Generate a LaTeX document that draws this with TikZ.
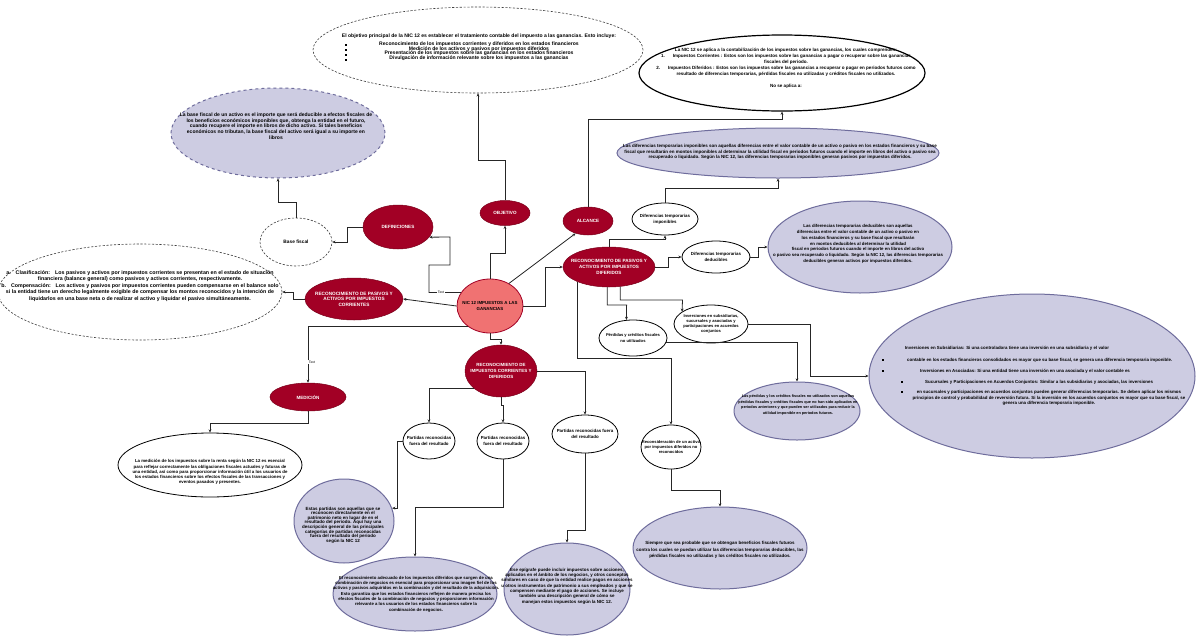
\documentclass[tikz,border=0pt]{standalone}
\usepackage{fontspec}
\setmainfont{Liberation Sans}
\usetikzlibrary{shapes.geometric,arrows.meta}
\definecolor{crim}{HTML}{A20025}
\definecolor{crimd}{HTML}{7A001A}
\definecolor{salm}{HTML}{F07272}
\definecolor{lavf}{HTML}{CDCCE2}
\definecolor{lavd}{HTML}{6E6C9C}
\newcommand\sqb{\rule{1.5pt}{1.5pt}}
\begin{document}
\begin{tikzpicture}[x=1pt,y=-1pt,
  E/.style={ellipse, inner sep=0pt},
  red/.style={E, fill=crim, draw=crimd, line width=0.5pt},
  wht/.style={E, fill=white, draw=black, line width=0.8pt},
  dsh/.style={E, fill=white, draw=black!75, line width=0.6pt, dash pattern=on 2.2pt off 1.6pt},
  lav/.style={E, fill=lavf, draw=lavd, line width=1pt},
  sz/.style 2 args={minimum width=#1pt, minimum height=#2pt},
  tx/.style={align=center, inner sep=0pt, text=black, font=\fontsize{4.4}{5.6}\selectfont\bfseries},
  wtx/.style={align=center, inner sep=0pt, text=white, font=\fontsize{4.6}{5.6}\selectfont\bfseries},
  fs/.style 2 args={font=\fontsize{#1}{#2}\selectfont\bfseries},
  conn/.style={draw=black!85, line width=0.8pt, -{Stealth[length=3.2pt,width=2.8pt]}},
  lbl/.style={fill=white, inner sep=0.4pt, font=\fontsize{3.4}{4}\selectfont},
]
\useasboundingbox (0,0) rectangle (1200,643);
\fill[white] (0,0) rectangle (1200,643);

% ---------- top ellipses ----------
\node[dsh, sz={330}{86}] (obj) at (478,50) {};
\node[tx, fs={5.05}{4.9}] (objt) at (479,47.5) {El objetivo principal de la NIC 12 es establecer el tratamiento contable del impuesto a las ganancias. Esto incluye:\\[2.5pt]
Reconocimiento de los impuestos corrientes y diferidos en los estados financieros\\
Medición de los activos y pasivos por impuestos diferidos\\
Presentación de los impuestos sobre las ganancias en los estados financieros\\
Divulgación de información relevante sobre los impuestos a las ganancias};
\node[tx, fs={4}{4.9}] (objb) at (346,52.5) {\sqb\\\sqb\\\sqb\\\sqb};

\node[wht, line width=1.2pt, sz={286}{76}] (alc) at (782,73) {};
\node[tx, fs={4.55}{6}] (alct) at (786,68) {La NIC 12 se aplica a la contabilización de los impuestos sobre las ganancias, los cuales comprenden:\\
1.\hspace{8pt}Impuestos Corrientes : Estos son los impuestos sobre las ganancias a pagar o recuperar sobre las ganancias\\
fiscales del periodo.\\
2.\hspace{8pt}Impuestos Diferidos : Estos son los impuestos sobre las ganancias a recuperar o pagar en periodos futuros como\\
resultado de diferencias temporarias, pérdidas fiscales no utilizadas y créditos fiscales no utilizados.\\[6pt]
No se aplica a:};

\node[lav, dashed, sz={214}{90}] (bt) at (278,133) {};
\node[tx, fs={5.0}{5.7}] (btt) at (276,126) {La base fiscal de un activo es el importe que será deducible a efectos fiscales de\\
los beneficios económicos imponibles que, obtenga la entidad en el futuro,\\
cuando recupere el importe en libros de dicho activo. Si tales beneficios\\
económicos no tributan, la base fiscal del activo será igual a su importe en\\
libros};

% ---------- left ----------
\node[dsh, sz={72}{48}] (bf) at (296,242) {};
\node[tx, fs={4.8}{5.6}] (bft) at (bf) {Base fiscal};

\node[dsh, sz={284}{96}] (cl) at (140,292) {};
\node[tx, fs={5.3}{6.6}] (clt) at (140,286) {a.\hspace{5pt}Clasificación:\hspace{3pt} Los pasivos y activos por impuestos corrientes se presentan en el estado de situación\\
financiera (balance general) como pasivos y activos corrientes, respectivamente.\\
b.\hspace{5pt}Compensación:\hspace{3pt} Los activos y pasivos por impuestos corrientes pueden compensarse en el balance solo\\
si la entidad tiene un derecho legalmente exigible de compensar los montos reconocidos y la intención de\\
liquidarlos en una base neta o de realizar el activo y liquidar el pasivo simultáneamente.};

% ---------- red nodes ----------
\node[red, fill=salm, draw=crim, line width=0.8pt, sz={66}{54}] (nic) at (490,306) {};
\node[tx, fs={4.4}{5.6}] (nict) at (nic) {NIC 12 IMPUESTOS A LAS\\GANANCIAS};

\node[red, sz={50}{25}] (ob) at (505,213) {};
\node[wtx] (obt) at (ob) {OBJETIVO};
\node[red, sz={70}{44}] (de) at (398,227) {};
\node[wtx] (det) at (de) {DEFINICIONES};
\node[red, sz={50}{28}] (al) at (588,221) {};
\node[wtx] (alt) at (al) {ALCANCE};
\node[red, sz={98}{42}] (rc) at (354,299) {};
\node[wtx, fs={4.7}{5.6}] (rct) at (rc) {RECONOCIMIENTO DE PASIVOS Y\\ACTIVOS POR IMPUESTOS\\CORRIENTES};
\node[red, sz={92}{40}] (rd) at (609,267) {};
\node[wtx, fs={4.6}{5.6}] (rdt) at (rd) {RECONOCIMIENTO DE PASIVOS Y\\ACTIVOS POR IMPUESTOS\\DIFERIDOS};
\node[red, sz={72}{52}] (rcd) at (501,371) {};
\node[wtx, fs={4.5}{5.6}] (rcdt) at (rcd) {RECONOCIMIENTO DE\\IMPUESTOS CORRIENTES Y\\DIFERIDOS};
\node[red, sz={76}{28}] (me) at (308,397) {};
\node[wtx] (met) at (me) {MEDICIÓN};

% ---------- right side ----------
\node[lav, sz={322}{50}] (it) at (778,153) {};
\node[tx, fs={4.5}{5.6}] (itt) at (780,152) {Las diferencias temporarias imponibles son aquellas diferencias entre el valor contable de un activo o pasivo en los estados financieros y su base\\
fiscal que resultarán en montos imponibles al determinar la utilidad fiscal en periodos futuros cuando el importe en libros del activo o pasivo sea\\
recuperado o liquidado. Según la NIC 12, las diferencias temporarias imponibles generan pasivos por impuestos diferidos.};

\node[wht, sz={66}{32}] (di) at (665,219) {};
\node[tx, fs={4.4}{6}] (dit) at (di) {Diferencias temporarias\\imponibles};
\node[wht, sz={68}{32}] (dd) at (716,257) {};
\node[tx, fs={4.4}{6}] (ddt) at (dd) {Diferencias temporarias\\deducibles};

\node[lav, sz={184}{92}] (dt) at (860,247) {};
\node[tx, fs={4.35}{5.8}] (dtt) at (858,244) {Las diferencias temporarias deducibles son aquellas\\
diferencias entre el valor contable de un activo o pasivo en\\
los estados financieros y su base fiscal que resultarán\\
en montos deducibles al determinar la utilidad\\
fiscal en periodos futuros cuando el importe en libros del activo\\
o pasivo sea recuperado o liquidado. Según la NIC 12, las diferencias temporarias\\
deducibles generan activos por impuestos diferidos.};

\node[wht, sz={68}{36}] (pe) at (633,338) {};
\node[tx, fs={4.1}{5.6}] (pet) at (pe) {Pérdidas y créditos fiscales\\no utilizados};
\node[wht, sz={74}{38}] (in) at (711,324) {};
\node[tx, fs={4.1}{5}] (int) at (in) {Inversiones en subsidiarias,\\sucursales y asociadas y\\participaciones en acuerdos\\conjuntos};

\node[lav, sz={126}{58}] (pt) at (797,411) {};
\node[tx, fs={3.8}{5.7}] (ptt) at (798,405) {Las pérdidas y los créditos fiscales no utilizados son aquellas\\
pérdidas fiscales y créditos fiscales que no han sido aplicados en\\
periodos anteriores y que pueden ser utilizados para reducir la\\
utilidad imponible en periodos futuros.};

\node[lav, sz={326}{164}] (iv) at (1032,376) {};
\node[tx, fs={4.4}{5.5}] (iv1) at (1007,348) {Inversiones en Subsidiarias: Si una controladora tiene una inversión en una subsidiaria y el valor};
\node[tx] (iv2b) at (883,360) {\sqb};
\node[tx, fs={4.4}{5.5}, anchor=west] (iv2) at (907,360) {contable en los estados financieros consolidados es mayor que su base fiscal, se genera una diferencia temporaria imponible.};
\node[tx] (iv3b) at (883,371) {\sqb};
\node[tx, fs={4.4}{5.5}, anchor=west] (iv3) at (920,371) {Inversiones en Asociadas: Si una entidad tiene una inversión en una asociada y el valor contable es};
\node[tx] (iv4b) at (902,382) {\sqb};
\node[tx, fs={4.4}{5.5}, anchor=west] (iv4) at (925,382) {Sucursales y Participaciones en Acuerdos Conjuntos: Similar a las subsidiarias y asociadas, las inversiones};
\node[tx] (iv5b) at (902,392) {\sqb};
\node[tx, fs={4.4}{5.5}] (iv5) at (1049,398) {en sucursales y participaciones en acuerdos conjuntos pueden generar diferencias temporarias. Se deben aplicar los mismos\\
principios de control y probabilidad de reversión futura. Si la inversión en los acuerdos conjuntos es mayor que su base fiscal, se\\
genera una diferencia temporaria imponible.};

% ---------- bottom ----------
\node[wht, sz={184}{64}] (mt) at (210,465) {};
\node[tx, fs={4.35}{5.1}] (mtt) at (210,472) {La medición de los impuestos sobre la renta según la NIC 12 es esencial\\
para reflejar correctamente las obligaciones fiscales actuales y futuras de\\
una entidad, así como para proporcionar información útil a los usuarios de\\
los estados financieros sobre los efectos fiscales de las transacciones y\\
eventos pasados y presentes.};

\node[wht, sz={52}{36}] (p1) at (429,441) {};
\node[tx, fs={4.4}{5.4}] (p1t) at (p1) {Partidas reconocidas\\fuera del resultado};
\node[wht, sz={52}{36}] (p2) at (503,441) {};
\node[tx, fs={4.4}{5.4}] (p2t) at (p2) {Partidas reconocidas\\fuera del resultado};
\node[wht, sz={66}{38}] (p3) at (585,434) {};
\node[tx, fs={4.4}{5.6}] (p3t) at (p3) {Partidas reconocidas fuera\\del resultado};
\node[wht, sz={60}{44}] (rn) at (671,447) {};
\node[tx, fs={4.1}{5.2}] (rnt) at (rn) {Reconsideración de un activo\\por impuestos diferidos no\\reconocidos};

\node[lav, sz={100}{84}] (pc) at (344,521) {};
\node[tx, fs={4.5}{4.6}] (pct) at (343,525) {Estas partidas son aquellas que se\\
reconocen directamente en el\\
patrimonio neto en lugar de en el\\
resultado del periodo. Aquí hay una\\
descripción general de las principales\\
categorías de partidas reconocidas\\
fuera del resultado del periodo\\
según la NIC 12};

\node[lav, sz={164}{74}] (cb) at (415,594) {};
\node[tx, fs={4.3}{5.3}] (cbt) at (416,594) {El reconocimiento adecuado de los impuestos diferidos que surgen de una\\
combinación de negocios es esencial para proporcionar una imagen fiel de los\\
activos y pasivos adquiridos en la combinación y del resultado de la adquisición.\\
Esto garantiza que los estados financieros reflejen de manera precisa los\\
efectos fiscales de la combinación de negocios y proporcionen información\\
relevante a los usuarios de los estados financieros sobre la\\
combinación de negocios.};

\node[lav, sz={126}{92}] (ac) at (567,589) {};
\node[tx, fs={4.45}{5.3}] (act) at (567,586) {Ese epígrafe puede incluir impuestos sobre acciones,\\
aplicados en el ámbito de los negocios, y otros conceptos\\
similares en caso de que la entidad realice pagos en acciones\\
u otros instrumentos de patrimonio a sus empleados y que se\\
compensen mediante el pago de acciones. Se incluye\\
también una descripción general de cómo se\\
manejan estos impuestos según la NIC 12.};

\node[lav, sz={174}{82}] (rt) at (720,548) {};
\node[tx, fs={4.45}{6.8}] (rtt) at (720,550) {Siempre que sea probable que se obtengan beneficios fiscales futuros\\
contra los cuales se puedan utilizar las diferencias temporarias deducibles, las\\
pérdidas fiscales no utilizadas y los créditos fiscales no utilizados.};

% ---------- connectors ----------
\draw[conn] (nic.north) |- (505,253) -- (ob.south);
\draw[conn] (ob.north) |- (478,160) -- (obj.south);
\draw[conn] (nic.155) -| (429,265) -| (450,237) -- (de.-18);
\draw[conn] (de.west) -- (347,227) |- (bf.east);
\draw[conn] (bf.north) -- (296,202) -| (bt.south);
\draw[conn] (nic.west) -- (rc.east);
\draw[conn] (rc.west) -- (293,299) |- (cl.east);
\draw[conn] (nic.50) -- (al.225);
\draw[conn] (al.north) |- (782,119) -- (alc.south);
\draw[conn] (nic.east) -- (545,306) |- (rd.west);
\draw[conn] (rd.north) |- (665,239) -- (di.south);
\draw[conn] (di.north) -- (665,188) -| (it.south);
\draw[conn] (rd.east) -- (668,267) |- (dd.west);
\draw[conn] (dd.east) -- (758,257) |- (dt.west);
\draw[conn] (rd.-95) |- (626.6,305) -- (pe.110);
\draw[conn] (rd.-60) |- (682.5,300) -- (in.157);
\draw[conn] (rd.-155) |- (671,358) -- (rn.north);
\draw[conn] (in.east) -- (810,324) |- (iv.west);
\draw[conn] (pe.-8) -| (pt.north);
\draw[conn] (nic.south) |- (501,339) -- (rcd.north);
\draw[conn] (nic.-138) -| (me.north);
\draw[conn] (me.south) -- (308,423) -| (mt.north);
\draw[conn] (rcd.-148) -| (p1.north);
\draw[conn] (rcd.south) -- (501,405) -- (503,405) -- (p2.north);
\draw[conn] (rcd.east) -| (p3.north);
\draw[conn] (p1.west) -- (397,441) |- (pc.15);
\draw[conn] (p2.south) -- (503,507) -| (cb.north);
\draw[conn] (p3.south) -- (585,530) -| (ac.north);
\draw[conn] (rn.south) -- (671,490) -| (rt.north);

\node[lbl] (l1) at (441,292.5) {Text};
\node[lbl] (l2) at (312,362) {Text};
\end{tikzpicture}
\end{document}
